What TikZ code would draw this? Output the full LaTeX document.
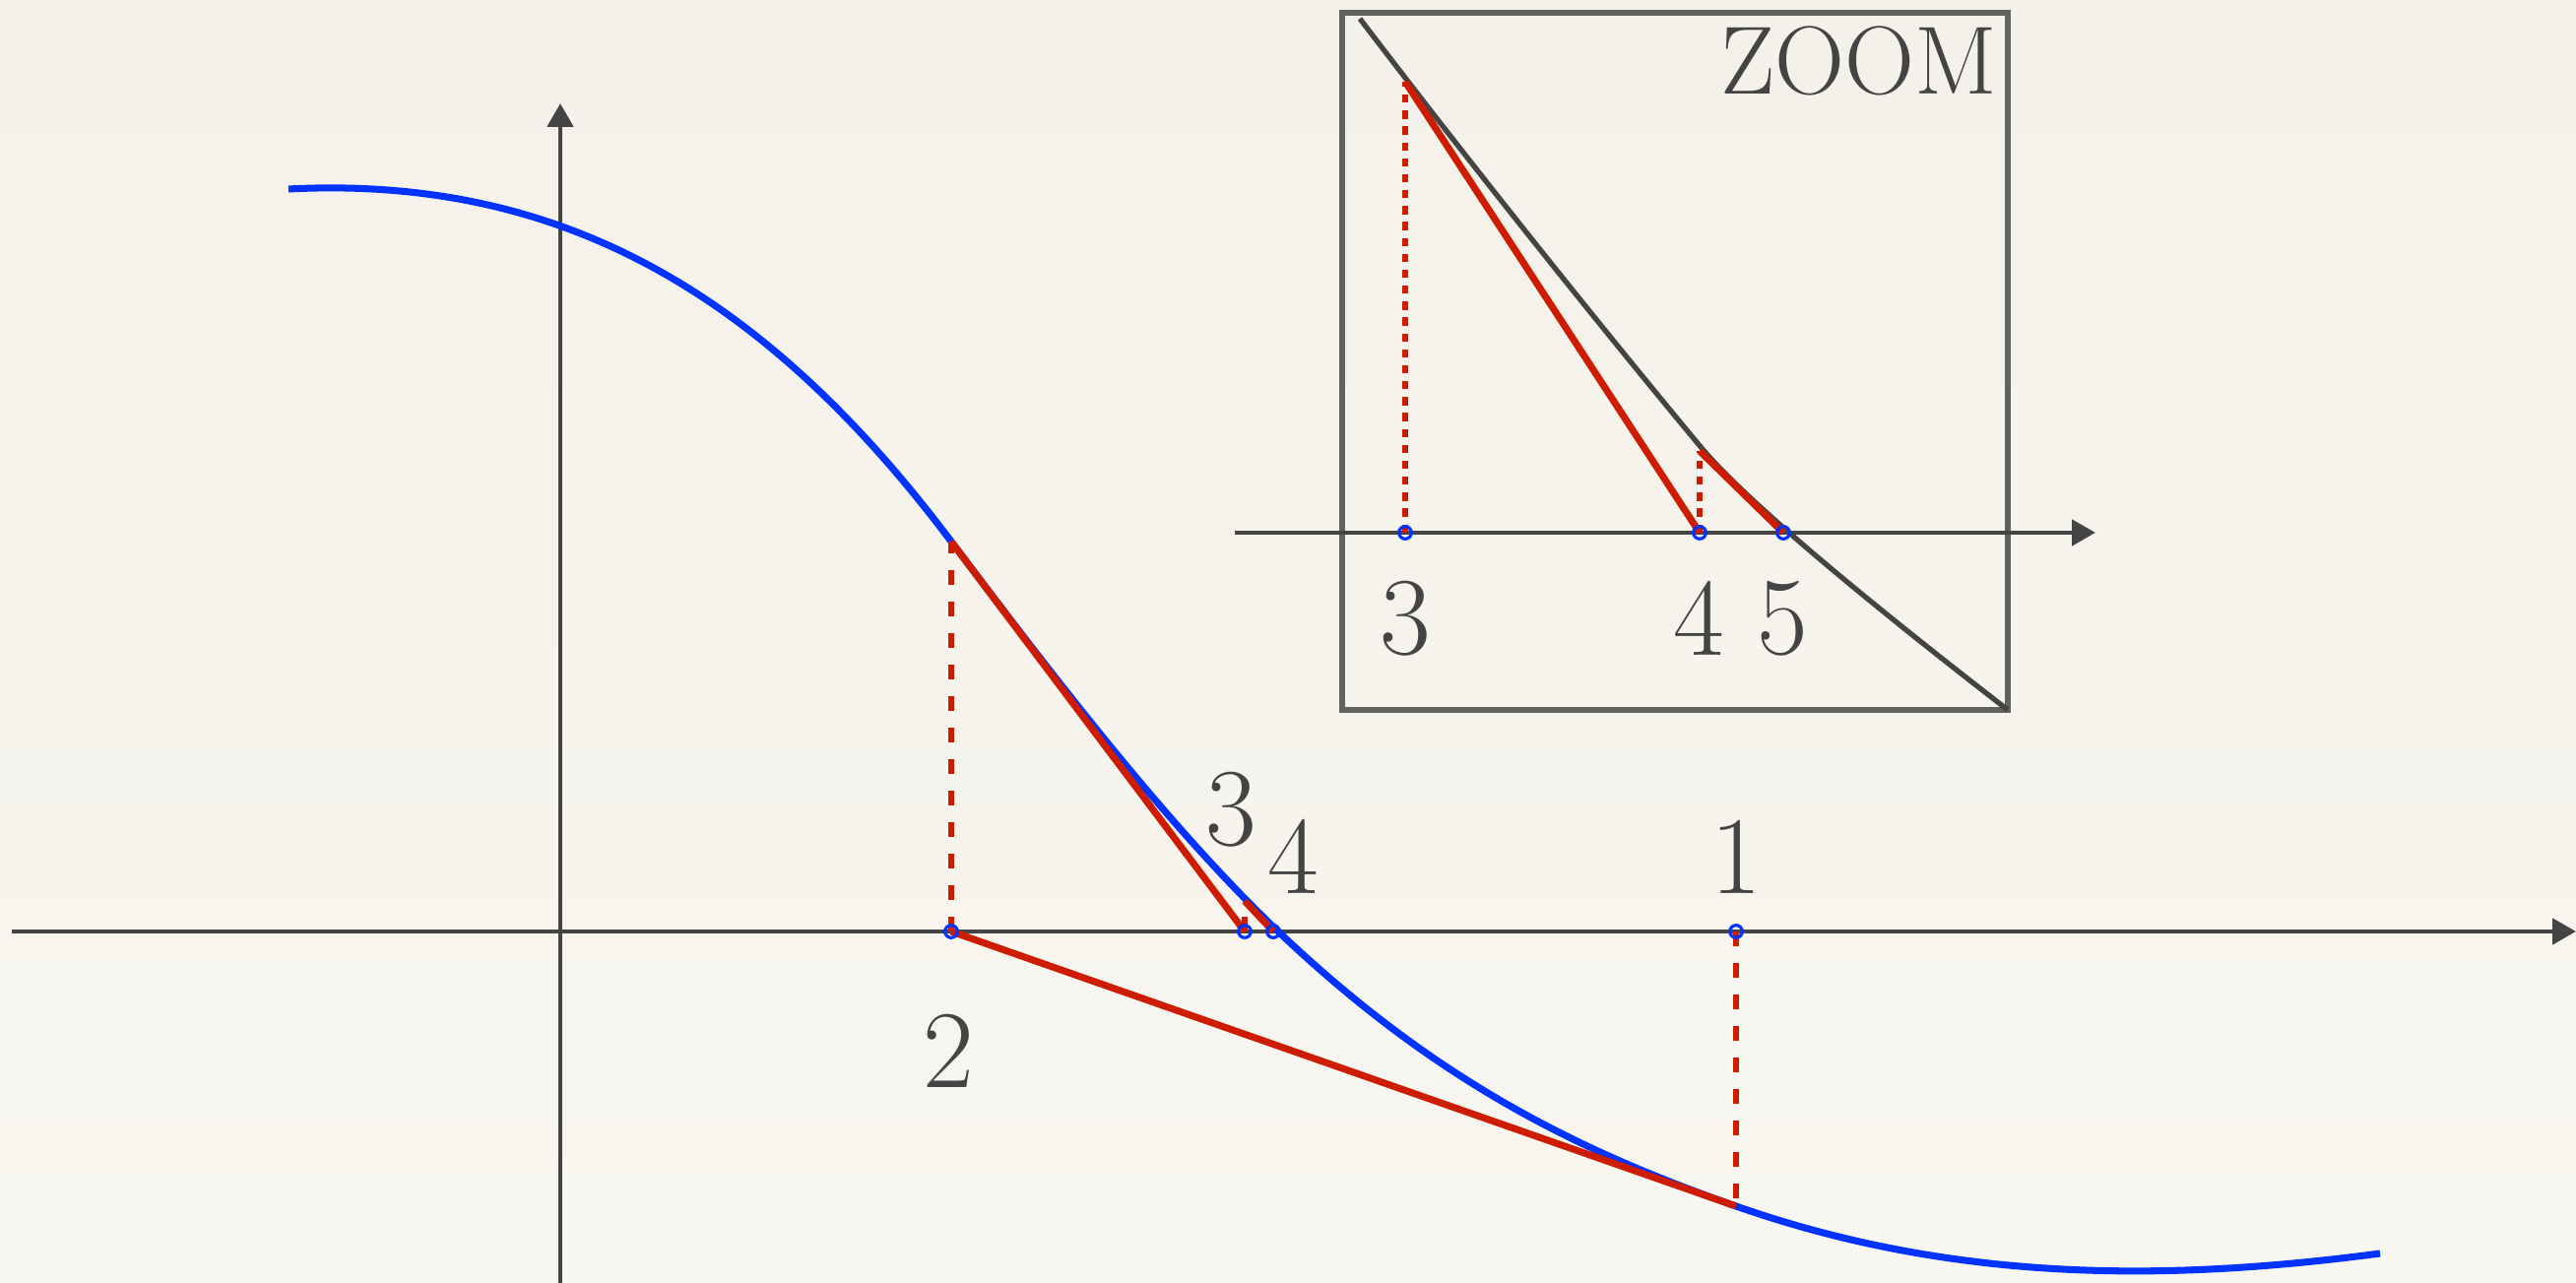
\documentclass[tikz,border=0pt]{standalone}
\usetikzlibrary{arrows.meta}
\definecolor{papertop}{RGB}{244,241,234}
\definecolor{papermid}{RGB}{226,223,218}
\definecolor{paperlow}{RGB}{248,246,240}
\definecolor{axisgray}{RGB}{68,68,68}
\definecolor{framegray}{RGB}{98,98,96}
\definecolor{curveblue}{RGB}{0,51,255}
\definecolor{newtonred}{RGB}{206,28,0}

\begin{document}
\begin{tikzpicture}[
  axisline/.style={draw=axisgray,line width=1.4pt,-{Triangle[length=2.4mm,width=2.6mm]}},
  fcurve/.style={draw=curveblue,line width=2pt},
  tangentline/.style={draw=newtonred,line width=2pt},
  dropline/.style={draw=newtonred,line width=1.9pt,dash pattern=on 4.3pt off 4.8pt},
  dropdotted/.style={draw=newtonred,line width=1.9pt,dash pattern=on 2.4pt off 2.2pt},
  iterpt/.style={circle,draw=curveblue,line width=0.9pt,inner sep=0pt,minimum size=3.6pt},
  numlbl/.style={text=axisgray,font=\fontsize{32}{32}\selectfont,inner sep=0pt}
]

% paper background
\useasboundingbox (-5.69,-3.57) rectangle (20.47,9.46);
\shade[top color=papertop,middle color=papermid,bottom color=paperlow] (-5.69,-3.57) rectangle (20.47,9.46);

% axes
\draw[axisline] (-5.57,0) -- (20.47,0);
\draw[axisline] (0,-3.57) -- (0,8.41);

% iterates on the axis and on the curve
\coordinate (x0) at (11.94,0);
\coordinate (f0) at (11.94,-2.79);
\coordinate (x1) at (3.97,0);
\coordinate (f1) at (3.97,3.96);
\coordinate (x2) at (6.95,0);
\coordinate (f2) at (6.95,0.31);
\coordinate (x3) at (7.24,0);

% the function
\draw[fcurve] (-2.76,7.54) .. controls (0,7.68) and (2.07,6.49) .. (f1)
  .. controls (5.07,2.50) and (6.19,1.05) .. (7.29,0)
  .. controls (8.89,-1.52) and (10.34,-2.23) .. (f0)
  .. controls (14.14,-3.56) and (16.28,-3.56) .. (18.48,-3.27);

% newton steps
\draw[dropline] (x0) -- (f0);
\draw[tangentline] (f0) -- (x1);
\draw[dropline] (x1) -- (f1);
\draw[tangentline] (f1) -- (x2);
\draw[dropline] (x2) -- (f2);
\draw[tangentline] (f2) -- (x3);

\node[iterpt] (p0) at (x0) {};
\node[iterpt] (p1) at (x1) {};
\node[iterpt] (p2) at (x2) {};
\node[iterpt] (p3) at (x3) {};

\node[numlbl] (l1) at (11.94,0.76) {1};
\node[numlbl] (l2) at (3.94,-1.21) {2};
\node[numlbl] (l3) at (6.81,1.24) {3};
\node[numlbl] (l4) at (7.44,0.76) {4};

% zoomed inset
\draw[draw=framegray,line width=1.6pt] (7.94,2.25) rectangle (14.70,9.33);
\draw[axisline] (6.85,4.05) -- (15.59,4.05);
\draw[draw=axisgray,line width=1.5pt] (8.12,9.27) .. controls (9.3,7.72) and (10.6,6.1) .. (11.59,4.91)
  .. controls (12.1,4.30) and (13.6,3.10) .. (14.70,2.25);

\coordinate (z3) at (8.58,4.05);
\coordinate (g3) at (8.58,8.63);
\coordinate (z4) at (11.57,4.05);
\coordinate (g4) at (11.57,4.88);
\coordinate (z5) at (12.42,4.05);

\draw[dropdotted] (z3) -- (g3);
\draw[tangentline] (g3) -- (z4);
\draw[dropdotted] (z4) -- (g4);
\draw[tangentline] (g4) -- (z5);

\node[iterpt] (q3) at (z3) {};
\node[iterpt] (q4) at (z4) {};
\node[iterpt] (q5) at (z5) {};

\node[numlbl] (m3) at (8.58,3.18) {3};
\node[numlbl] (m4) at (11.56,3.18) {4};
\node[numlbl] (m5) at (12.41,3.18) {5};
\node[numlbl,anchor=east,font=\fontsize{28}{28}\selectfont] (zoomlbl) at (14.60,8.84) {ZOOM};

\end{tikzpicture}
\end{document}
